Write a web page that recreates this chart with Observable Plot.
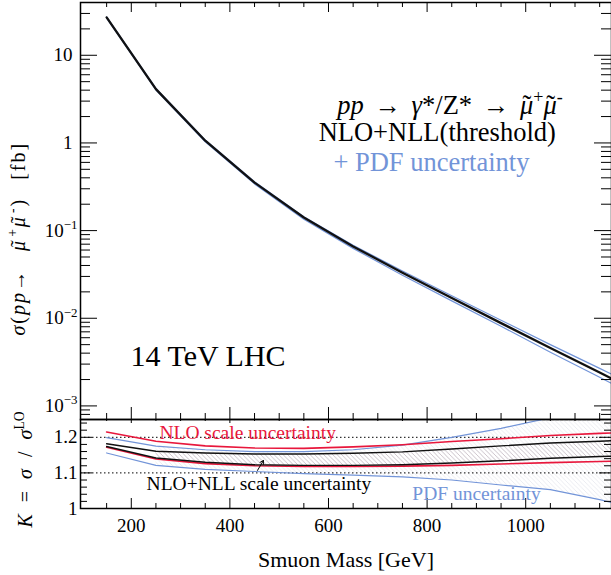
<!DOCTYPE html>
<html><head><meta charset="utf-8">
<script src="https://cdn.jsdelivr.net/npm/d3@7"></script>
<script src="https://cdn.jsdelivr.net/npm/@observablehq/plot@0.6"></script>
<style>
body{margin:0;background:#fff;}
#chart{position:relative;width:611px;height:575px;overflow:hidden;}
#chart svg{position:absolute;left:0;overflow:visible;}
</style></head><body><div id="chart"></div>
<script>
// ---- data ----
const mass = [150, 250, 350, 450, 550, 650, 750, 850, 950, 1050, 1150, 1250];
const sigma      = [27, 4.11, 1.06, 0.353, 0.141, 0.066, 0.033, 0.017, 0.0088, 0.00457, 0.0024, 0.00126];
const sigmaPdfUp = [27.5, 4.19, 1.08, 0.361, 0.144, 0.068, 0.0346, 0.0181, 0.0095, 0.0050, 0.00268, 0.00144];
const sigmaPdfLo = [26.5, 4.02, 1.03, 0.341, 0.135, 0.0627, 0.0310, 0.0158, 0.0081, 0.0041, 0.00212, 0.00109];
const kNloUp = [1.215, 1.189, 1.176, 1.170, 1.169, 1.173, 1.179, 1.188, 1.196, 1.205, 1.211, 1.216];
const kNloLo = [1.172, 1.139, 1.126, 1.120, 1.118, 1.118, 1.119, 1.121, 1.125, 1.129, 1.132, 1.135];
const kNllUp = [1.182, 1.161, 1.156, 1.153, 1.153, 1.155, 1.159, 1.167, 1.176, 1.184, 1.189, 1.194];
const kNllLo = [1.174, 1.142, 1.130, 1.123, 1.121, 1.121, 1.123, 1.128, 1.134, 1.141, 1.146, 1.150];
const kPdfUp = [1.199, 1.175, 1.165, 1.160, 1.160, 1.165, 1.178, 1.200, 1.225, 1.255, 1.29, 1.33];
const kPdfLo = [1.156, 1.121, 1.110, 1.104, 1.098, 1.094, 1.089, 1.080, 1.066, 1.053, 1.025, 0.99];

const xMajorTicks = [200, 400, 600, 800, 1000];
const xTickLabels = ["200", "400", "600", "800", "1000"];
const xMinorTicks = [150, 250, 300, 350, 450, 500, 550, 650, 700, 750, 850, 900, 950, 1050, 1100, 1150];
const yMajorTicks = [1e-3, 1e-2, 1e-1, 1, 10];
const yTickLabels = ["10^-3", "10^-2", "10^-1", "1", "10"];
const yMinorTicks = [7e-4, 8e-4, 9e-4,
  2e-3, 3e-3, 4e-3, 5e-3, 6e-3, 7e-3, 8e-3, 9e-3,
  2e-2, 3e-2, 4e-2, 5e-2, 6e-2, 7e-2, 8e-2, 9e-2,
  0.2, 0.3, 0.4, 0.5, 0.6, 0.7, 0.8, 0.9,
  2, 3, 4, 5, 6, 7, 8, 9, 20, 30];
const kMajorTicks = [1, 1.1, 1.2];
const kTickLabels = ["1", "1.1", "1.2"];
const kMinorTicks = [1.02, 1.04, 1.06, 1.08, 1.12, 1.14, 1.16, 1.18, 1.22, 1.24];
const kRefLines = [1.1, 1.2];

// ---- layout / style ----
const blue = "#7294d8", red = "#e8173c";
const W = 611, ML = 80, MR = 0;
const FW = W - ML - MR;
const topH = 419, topMT = 2, FH1 = topH - topMT;
const botH = 156, botMB = 67, FH2 = botH - botMB;
const xDomain = [97, 1174];
const font = "'Liberation Serif', 'Times New Roman', serif";

const LBL_Y = "σ(pp→ μ+μ-) [fb]";
const LBL_PROC = "pp → γ*/Z* → μ+μ-";
const LBL_K = "K = σ / σLO";

const rows = mass.map((m, i) => ({
  m, s: sigma[i], su: sigmaPdfUp[i], sl: sigmaPdfLo[i],
  nloUp: kNloUp[i], nloLo: kNloLo[i], nllUp: kNllUp[i], nllLo: kNllLo[i],
  pdfUp: kPdfUp[i], pdfLo: kPdfLo[i]
}));

function xTicks(ticks, len, side, FH) {
  return Plot.tickX(ticks, {x: d => d, stroke: "#000", strokeWidth: 1,
    ...(side === "top" ? {insetBottom: FH - len} : {insetTop: FH - len})});
}
function yTicks(ticks, len, side) {
  return Plot.tickY(ticks, {y: d => d, stroke: "#000", strokeWidth: 1,
    ...(side === "left" ? {insetRight: FW - len} : {insetLeft: FW - len})});
}

const topPlot = Plot.plot({
  width: W, height: topH, marginLeft: ML, marginRight: MR, marginTop: topMT, marginBottom: 0,
  style: {fontFamily: font, background: "transparent", color: "#000"},
  x: {domain: xDomain, axis: null},
  y: {type: "log", domain: [7e-4, 40], axis: null},
  marks: [
    Plot.line(rows, {x: "m", y: "su", stroke: blue, strokeWidth: 1.2, clip: true}),
    Plot.line(rows, {x: "m", y: "sl", stroke: blue, strokeWidth: 1.2, clip: true}),
    Plot.line(rows, {x: "m", y: "s", stroke: "#111", strokeWidth: 2.3, clip: true}),
    xTicks(xMajorTicks, 10, "top", FH1), xTicks(xMinorTicks, 5, "top", FH1),
    xTicks(xMajorTicks, 12, "bottom", FH1), xTicks(xMinorTicks, 6, "bottom", FH1),
    yTicks(yMajorTicks, 17, "left"), yTicks(yMinorTicks, 10, "left"),
    yTicks(yMajorTicks, 17, "right"), yTicks(yMinorTicks, 10, "right"),
    Plot.frame({stroke: "#000", strokeWidth: 1.5}),
    Plot.text(yMajorTicks, {y: d => d, frameAnchor: "left", dx: -8, textAnchor: "end", fontSize: 19,
      text: (d, i) => yTickLabels[i], filter: (d, i) => !yTickLabels[i].includes("^")}),
    Plot.text(yMajorTicks, {y: d => d, frameAnchor: "left", dx: -3, textAnchor: "end", fontSize: 19,
      text: (d, i) => yTickLabels[i], filter: (d, i) => yTickLabels[i].includes("^")}),
    Plot.text([LBL_Y], {frameAnchor: "left", dx: -56, dy: 124.5, rotate: -90, textAnchor: "start",
      lineAnchor: "bottom", fontSize: 20}),
    Plot.text([LBL_PROC], {x: 618, y: 2.15, textAnchor: "start", lineAnchor: "bottom", fontSize: 26.5}),
    Plot.text(["NLO+NLL(threshold)"], {x: 580, y: 1.057, textAnchor: "start", lineAnchor: "bottom", fontSize: 26.5}),
    Plot.text(["+ PDF uncertainty"], {x: 610, y: 0.481, textAnchor: "start", lineAnchor: "bottom",
      fontSize: 26.5, fill: blue}),
    Plot.text(["14 TeV LHC"], {x: 198.4, y: 0.00285, textAnchor: "start", lineAnchor: "bottom", fontSize: 30})
  ]
});

const botPlot = Plot.plot({
  width: W, height: botH, marginLeft: ML, marginRight: MR, marginTop: 0, marginBottom: botMB,
  style: {fontFamily: font, background: "transparent", color: "#000"},
  x: {domain: xDomain, axis: null},
  y: {domain: [1, 1.25], axis: null},
  marks: [
    Plot.areaY(rows, {x: "m", y1: "pdfLo", y2: "pdfUp", fill: "url(#hatchPdf)", filter: d => d.m >= 250, clip: true}),
    Plot.areaY(rows, {x: "m", y1: "nllLo", y2: "nllUp", fill: "url(#hatchNll)", filter: d => d.m >= 250, clip: true}),
    Plot.ruleY(kRefLines, {stroke: "#000", strokeWidth: 1, strokeDasharray: "1.5,2.5"}),
    Plot.line(rows, {x: "m", y: "pdfUp", stroke: blue, strokeWidth: 1.2, clip: true}),
    Plot.line(rows, {x: "m", y: "pdfLo", stroke: blue, strokeWidth: 1.2, clip: true}),
    Plot.line(rows, {x: "m", y: "nloUp", stroke: red, strokeWidth: 1.6, clip: true}),
    Plot.line(rows, {x: "m", y: "nloLo", stroke: red, strokeWidth: 1.6, clip: true}),
    Plot.line(rows, {x: "m", y: "nllUp", stroke: "#111", strokeWidth: 1.4, clip: true}),
    Plot.line(rows, {x: "m", y: "nllLo", stroke: "#111", strokeWidth: 1.4, clip: true}),
    xTicks(xMajorTicks, 4, "top", FH2), xTicks(xMinorTicks, 2, "top", FH2),
    xTicks(xMajorTicks, 10, "bottom", FH2), xTicks(xMinorTicks, 5, "bottom", FH2),
    yTicks(kMajorTicks, 12, "left"), yTicks(kMinorTicks, 7, "left"),
    yTicks(kMajorTicks, 12, "right"), yTicks(kMinorTicks, 7, "right"),
    Plot.frame({stroke: "#000", strokeWidth: 1.5}),
    Plot.text(kMajorTicks, {y: d => d, frameAnchor: "left", dx: -3, textAnchor: "end", fontSize: 19,
      text: (d, i) => kTickLabels[i]}),
    Plot.text(xMajorTicks, {x: d => d, frameAnchor: "bottom", dy: 23.5, lineAnchor: "bottom", fontSize: 19,
      text: (d, i) => xTickLabels[i]}),
    Plot.text(["Smuon Mass [GeV]"], {frameAnchor: "bottom", dy: 58, lineAnchor: "bottom", fontSize: 22}),
    Plot.text([LBL_K], {frameAnchor: "left", dx: -49, dy: 63.5, rotate: -90, textAnchor: "start",
      lineAnchor: "bottom", fontSize: 20}),
    Plot.text(["NLO scale uncertainty"], {x: 257, y: 1.195, textAnchor: "start", lineAnchor: "bottom",
      fontSize: 19.5, fill: red}),
    Plot.text(["NLO+NLL scale uncertainty"], {x: 231, y: 1.051, textAnchor: "start", lineAnchor: "bottom",
      fontSize: 19.5, fill: "#000"}),
    Plot.text(["PDF uncertainty"], {x: 770, y: 1.023, textAnchor: "start", lineAnchor: "bottom",
      fontSize: 19.5, fill: blue}),
    Plot.arrow([0], {x1: 456, y1: 1.107, x2: 468, y2: 1.1348, stroke: "#000", strokeWidth: 1, headLength: 6})
  ]
});

// hatch patterns
const defs = d3.select(botPlot).insert("defs", ":first-child");
function hatch(id, color, w) {
  const s = 4.5;
  const p = defs.append("pattern").attr("id", id).attr("patternUnits", "userSpaceOnUse")
    .attr("width", s).attr("height", s);
  p.append("path").attr("d", `M-1,-1L${s + 1},${s + 1}M-1,${s - 1}L1,${s + 1}M${s - 1},-1L${s + 1},1`)
    .attr("stroke", color).attr("stroke-width", w).attr("fill", "none");
}
hatch("hatchPdf", "#e3e4ec", 0.7);
hatch("hatchNll", "#c2b5bd", 0.7);

// rich text helper: italics, superscripts and over-placed tildes as tspans
function rich(el, segs, fs) {
  const t = d3.select(el); t.text("");
  let shift = 0;
  for (const s of segs) {
    const target = s.sup ? -0.4 * fs : 0;
    const ts = t.append("tspan").text(s.t);
    if (target !== shift) { ts.attr("dy", target - shift); shift = target; }
    if (s.dx) ts.attr("dx", s.dx * fs);
    if (s.sup) ts.attr("font-size", 0.68 * fs);
    if (s.it) ts.attr("font-style", "italic");
  }
}
const smuon = sign => [{t: "μ", it: true}, {t: "\u02DC", dx: -0.40}, {t: sign, sup: true, dx: 0.07}];
function texts(svg, pred) {
  return d3.select(svg).selectAll("text").filter(function () { return pred(this.textContent); });
}
texts(topPlot, s => s.includes("^")).each(function () {
  const [b, e] = this.textContent.split("^");
  rich(this, [{t: b}, {t: e.replace("-", "\u2212"), sup: true}], 19);
});
texts(topPlot, s => s === LBL_Y).each(function () {
  rich(this, [{t: "σ", it: true}, {t: "("}, {t: "pp", it: true}, {t: "→ "},
    ...smuon("+"), ...smuon("-"), {t: ") [fb]"}], 20);
  d3.select(this).attr("letter-spacing", "2").attr("word-spacing", "11");
});
texts(topPlot, s => s === LBL_PROC).each(function () {
  rich(this, [{t: "pp", it: true}, {t: " → "}, {t: "γ", it: true}, {t: "*/Z* → "},
    ...smuon("+"), ...smuon("-")], 26.5);
  d3.select(this).attr("word-spacing", "4");
});
texts(botPlot, s => s === LBL_K).each(function () {
  rich(this, [{t: "K", it: true}, {t: " = "}, {t: "σ", it: true}, {t: " / "}, {t: "σ", it: true},
    {t: "LO", sup: true}], 20);
  d3.select(this).attr("word-spacing", "7");
});

const chart = document.getElementById("chart");
topPlot.style.top = "0px";
botPlot.style.top = topH + "px";
chart.appendChild(topPlot);
chart.appendChild(botPlot);
</script></body></html>
